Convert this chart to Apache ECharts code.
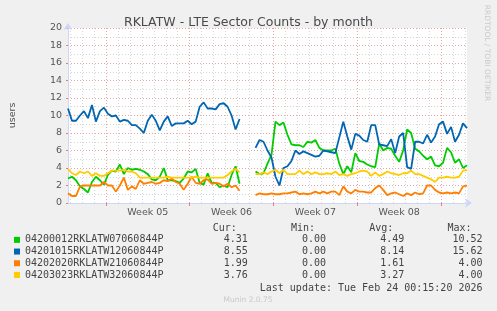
<!DOCTYPE html>
<html><head><meta charset="utf-8">
<script src="https://cdn.jsdelivr.net/npm/echarts@6/dist/echarts.min.js"></script>
<style>html,body{margin:0;padding:0;background:#F0F0F0}#c{width:497px;height:311px}</style>
</head><body><div id="c"></div>
<script>
// ---------- data ----------
const chartTitle = 'RKLATW - LTE Sector Counts - by month';
const seriesNames = ['04200012RKLATW07060844P','04201015RKLATW12060844P','04202020RKLATW21060844P','04203023RKLATW32060844P'];
const seriesColors = ['#00CC00','#0066B3','#FF8000','#FFCC00'];
// sample times: hours since left edge of the plot, one every 8 hours
const hours = []; for (let h = 0; h <= 800; h += 8) hours.push(h);
const green = [2.8,3.0,2.6,1.9,1.6,1.2,2.4,3.0,2.6,2.1,3.2,3.7,3.6,4.4,3.3,4.0,3.8,3.9,3.8,3.6,3.3,2.7,2.6,3.0,4.0,2.6,2.6,2.5,2.3,2.8,3.6,3.5,3.9,2.3,2.1,3.4,2.3,2.3,1.8,2.0,1.8,3.2,4.2,2.2,
  null,null,null,
  3.6,3.3,3.4,4.5,5.5,9.3,8.9,9.2,7.8,6.7,6.6,6.6,6.4,7.0,6.9,7.2,6.3,6.0,6.0,6.0,6.2,4.5,3.3,4.2,3.5,5.7,4.8,4.7,4.4,4.2,4.1,6.8,6.0,6.3,6.2,5.4,4.7,6.0,8.4,8.0,6.2,5.9,5.4,5.0,5.3,4.3,4.2,4.6,6.3,5.8,4.6,5.0,4.0,4.31];
const blue = [10.8,9.4,9.4,10.0,10.5,9.7,11.2,9.3,10.5,10.9,10.2,9.9,10.0,9.3,9.5,9.4,8.9,8.9,8.5,8.0,9.4,10.1,9.4,8.3,9.3,9.9,8.8,9.1,9.1,9.1,9.4,9.0,9.3,11.0,11.5,10.8,10.8,10.7,11.3,11.4,11.0,10.0,8.4,9.6,
  null,null,null,
  6.3,7.2,7.0,6.0,5.2,3.0,2.0,4.0,4.2,4.8,6.0,5.6,5.9,5.7,5.5,5.3,5.4,6.0,5.9,5.8,5.7,7.5,9.3,7.6,6.1,7.9,7.7,7.2,7.0,8.9,8.9,6.7,6.6,6.5,7.3,5.7,7.6,8.0,4.1,3.9,7.0,7.0,6.8,7.8,6.9,7.6,9.0,9.3,7.9,8.7,7.0,7.8,9.1,8.55];
const orange = [1.1,0.8,0.8,1.9,2.0,2.0,2.0,2.0,2.0,2.4,2.0,2.0,1.3,2.0,2.9,1.5,1.9,1.6,2.6,2.2,2.3,2.4,2.2,2.3,2.6,2.5,2.8,2.4,2.2,1.5,2.2,3.0,2.3,2.2,2.6,2.7,2.2,2.3,2.2,1.9,2.2,1.8,2.0,1.4,
  null,null,null,
  0.9,1.1,1.0,1.0,1.1,1.0,1.0,1.1,1.1,1.2,1.3,1.0,1.1,1.0,1.1,1.3,1.1,1.3,1.1,1.3,1.3,0.9,1.9,1.3,1.1,1.5,1.3,1.3,1.2,1.2,1.7,2.0,1.5,0.9,1.1,1.2,1.0,0.8,1.1,0.9,1.2,1.0,1.1,2.0,2.0,1.5,1.2,1.1,1.2,1.1,1.2,1.1,1.9,1.99];
const yellow = [3.9,3.4,3.2,3.6,3.4,3.6,3.1,3.4,3.1,3.1,3.4,3.7,3.7,3.7,3.8,3.6,3.6,3.4,2.9,2.9,2.9,2.9,2.9,2.9,2.9,3.0,2.9,2.9,2.9,2.9,2.9,2.9,3.0,2.9,2.9,2.9,2.9,2.9,2.9,2.9,3.2,3.6,3.9,3.5,
  null,null,null,
  3.3,3.3,3.5,3.3,3.6,3.8,3.4,3.8,3.3,3.3,3.3,3.7,3.3,3.6,3.3,3.5,3.3,3.3,3.4,3.3,3.6,3.2,3.3,3.1,3.3,3.4,3.6,3.7,3.6,3.1,3.5,3.1,3.3,3.6,3.4,3.3,3.2,3.4,3.4,3.7,3.3,3.3,3.1,2.9,2.7,2.4,2.9,2.9,3.0,2.9,2.9,3.0,3.7,3.76];
const weekLabels = ['Week 05','Week 06','Week 07','Week 08'];
const weekLabelHours = [160,328,496,664];
const weekStartHours = [76,244,412,580,748];
const statCur = [4.31,8.55,1.99,3.76];
const statMin = [0.00,0.00,0.00,0.00];
const statAvg = [4.49,8.14,1.61,3.27];
const statMax = [10.52,15.62,4.00,4.00];
const lastUpdate = 'Last update: Tue Feb 24 00:15:20 2026';

// ---------- chart ----------
const gridHours = []; for (let h = 0; h <= 800; h += 4) gridHours.push(String(h));
const values = [green, blue, orange, yellow];
const padL = (s, n) => (' '.repeat(n) + s).slice(-n);
const padR = (s, n) => (s + ' '.repeat(n)).slice(0, n);
const f2 = v => v.toFixed(2);
const headerStr = padR('', 31) + padR('Cur:', 13) + padR('Min:', 13) + padR('Avg:', 13) + 'Max:';

const chart = echarts.init(document.getElementById('c'), null, {renderer: 'canvas'});
chart.setOption({
  animation: false,
  backgroundColor: '#F0F0F0',
  textStyle: {fontFamily: 'DejaVu Sans'},
  title: {text: chartTitle, left: 'center', top: 11,
    textStyle: {fontFamily: 'DejaVu Sans', fontSize: 12.5, fontWeight: 'normal', color: '#4a4a4a'}},
  grid: {left: 67, right: 30, top: 28, bottom: 108, show: true, backgroundColor: '#FFFFFF', borderWidth: 0},
  xAxis: [
    {type: 'value', min: 0, max: 800, show: false, position: 'bottom'},
    {type: 'category', data: gridHours, boundaryGap: false, position: 'bottom',
      axisLine: {show: true, onZero: false, lineStyle: {color: '#CFD6F8', width: 1}, symbol: ['none', 'arrow'], symbolSize: [7, 7], symbolOffset: [0, 5]},
      axisTick: {show: true, interval: (i, v) => weekStartHours.includes(+v), length: 3, lineStyle: {color: '#E08080'}},
      axisLabel: {show: true, interval: (i, v) => weekLabelHours.includes(+v),
        formatter: v => weekLabels[weekLabelHours.indexOf(+v)] || '',
        color: '#555', fontSize: 9.5, fontFamily: 'DejaVu Sans', margin: 5},
      splitLine: {show: true, interval: (i, v) => (+v) % 24 === 4 && !weekStartHours.includes(+v),
        lineStyle: {color: '#D6D6D6', type: [1, 2], width: 1}}
    },
    {type: 'category', data: gridHours, boundaryGap: false, position: 'bottom',
      axisLine: {show: false, onZero: false}, axisTick: {show: false}, axisLabel: {show: false},
      splitLine: {show: true, interval: (i, v) => weekStartHours.includes(+v),
        lineStyle: {color: '#E8A3A3', type: [1, 2], width: 1}}
    }
  ],
  yAxis: {type: 'value', min: 0, max: 20, interval: 2,
    name: 'users', nameLocation: 'middle', nameGap: 50, nameRotate: 90,
    nameTextStyle: {color: '#555', fontSize: 9.5, fontFamily: 'DejaVu Sans'},
    axisLine: {show: true, lineStyle: {color: '#CFD6F8', width: 1}, symbol: ['none', 'arrow'], symbolSize: [7, 7], symbolOffset: [0, 5]},
    axisTick: {show: true, length: 2, lineStyle: {color: '#E08080'}},
    axisLabel: {color: '#555', fontSize: 9.5, fontFamily: 'DejaVu Sans', margin: 6},
    splitLine: {show: true, lineStyle: {color: '#E8A3A3', type: [1, 2], width: 1}},
    minorTick: {show: false, splitNumber: 2},
    minorSplitLine: {show: true, lineStyle: {color: '#D6D6D6', type: [1, 2], width: 1}}
  },
  legend: {orient: 'vertical', left: 14, top: 234, itemWidth: 6, itemHeight: 6, itemGap: 0,
    icon: 'rect', selectedMode: false, data: seriesNames, padding: 0,
    formatter: name => {
      const i = seriesNames.indexOf(name);
      return name + padL(f2(statCur[i]), 14) + padL(f2(statMin[i]), 13) + padL(f2(statAvg[i]), 13) + padL(f2(statMax[i]), 13);
    },
    textStyle: {fontFamily: 'DejaVu Sans Mono', fontSize: 10, color: '#444', lineHeight: 11.7}
  },
  graphic: [
    {type: 'text', x: 26, y: 228, silent: true,
      style: {text: headerStr, font: '10px "DejaVu Sans Mono"', fill: '#444', verticalAlign: 'middle', align: 'left'}},
    {type: 'text', x: 482.5, y: 288, silent: true,
      style: {text: lastUpdate, font: '10px "DejaVu Sans Mono"', fill: '#444', verticalAlign: 'middle', align: 'right'}},
    {type: 'text', x: 248, y: 300, silent: true,
      style: {text: 'Munin 2.0.75', font: '7.5px "DejaVu Sans"', fill: '#C8C8C8', verticalAlign: 'middle', align: 'center'}},
    {type: 'text', x: 487, y: 53, rotation: -Math.PI / 2, silent: true,
      style: {text: 'RRDTOOL / TOBI OETIKER', font: '7.5px "DejaVu Sans"', fill: '#CACACA', verticalAlign: 'middle', align: 'center'}}
  ],
  series: seriesNames.map((n, k) => ({
    name: n, type: 'line', xAxisIndex: 0, yAxisIndex: 0,
    data: hours.map((h, i) => [h, values[k][i]]),
    showSymbol: false, symbol: 'none', connectNulls: false,
    lineStyle: {color: seriesColors[k], width: 1.8},
    itemStyle: {color: seriesColors[k]},
    z: 3 + k
  }))
});
</script></body></html>
